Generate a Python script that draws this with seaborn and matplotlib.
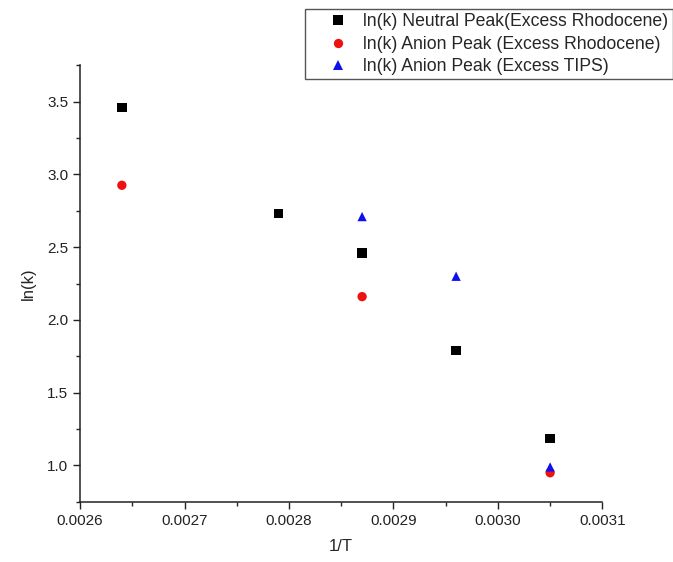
import matplotlib
matplotlib.use("Agg")
import matplotlib.pyplot as plt
import seaborn as sns
import pandas as pd
from matplotlib.ticker import MultipleLocator, FormatStrFormatter

sns.set_style("ticks")
plt.rcParams['font.family'] = ['Liberation Sans', 'DejaVu Sans']

x_neutral = [0.00264, 0.00279, 0.00287, 0.00296, 0.00305]
y_neutral = [3.46, 2.73, 2.46, 1.79, 1.185]
x_anion_rh = [0.00264, 0.00287, 0.00305]
y_anion_rh = [2.925, 2.16, 0.95]
x_anion_tips = [0.00287, 0.00296, 0.00305]
y_anion_tips = [2.71, 2.30, 0.99]

labels = ["ln(k) Neutral Peak(Excess Rhodocene)",
          "ln(k) Anion Peak (Excess Rhodocene)",
          "ln(k) Anion Peak (Excess TIPS)"]

df = pd.concat([
    pd.DataFrame({"x": x_neutral, "y": y_neutral, "series": labels[0]}),
    pd.DataFrame({"x": x_anion_rh, "y": y_anion_rh, "series": labels[1]}),
    pd.DataFrame({"x": x_anion_tips, "y": y_anion_tips, "series": labels[2]}),
])

fig = plt.figure(figsize=(6.73, 5.62), dpi=100)
ax = fig.add_axes([0.119, 0.107, 0.776, 0.777])

sns.scatterplot(data=df, x="x", y="y", hue="series", style="series",
                palette={labels[0]: "black", labels[1]: "#ee1111", labels[2]: "#1010ee"},
                markers={labels[0]: "s", labels[1]: "o", labels[2]: "^"},
                s=45, linewidth=0, ax=ax, legend=True)

ax.set_xlim(0.0026, 0.0031)
ax.set_ylim(0.75, 3.75)
ax.xaxis.set_major_locator(MultipleLocator(0.0001))
ax.xaxis.set_minor_locator(MultipleLocator(0.00005))
ax.xaxis.set_major_formatter(FormatStrFormatter("%.4f"))
ax.yaxis.set_major_locator(MultipleLocator(0.5))
ax.yaxis.set_minor_locator(MultipleLocator(0.25))
ax.yaxis.set_major_formatter(FormatStrFormatter("%.1f"))
ax.tick_params(which="major", direction="out", length=5, width=1, labelsize=11, colors="#222222")
ax.tick_params(which="minor", direction="out", length=3, width=1)
for s in ["top", "right"]:
    ax.spines[s].set_visible(False)
for s in ["left", "bottom"]:
    ax.spines[s].set_linewidth(1.1)
    ax.spines[s].set_color("#222222")

ax.set_xlabel("1/T", fontsize=12, labelpad=8)
ax.set_ylabel("ln(k)", fontsize=12, labelpad=8)

handles, lbls = ax.get_legend_handles_labels()
leg = ax.legend(handles, lbls, loc="upper right", bbox_to_anchor=(0.9995, 0.984),
                bbox_transform=fig.transFigure, fontsize=12.7, frameon=True,
                fancybox=False, edgecolor="#555555", framealpha=1,
                handlelength=3.26, handletextpad=-0.21, borderpad=0.24,
                labelspacing=0.31, borderaxespad=0, markerscale=1.0)
leg.get_frame().set_linewidth(1.0)

fig.savefig("out.png", dpi=100)
